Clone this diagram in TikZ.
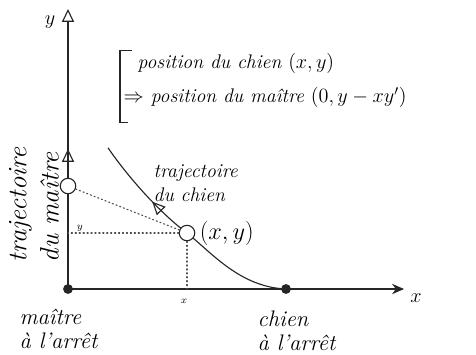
\documentclass[tikz,border=0pt]{standalone}
\usepackage{amsmath,amssymb}
\usepackage{tikz}
\usetikzlibrary{arrows.meta,positioning,calc,decorations.markings}
\tikzset{
  axisline/.style={thick, black!85},
  openpt/.style={circle, draw=black!85, thick, fill=white, inner sep=0pt, minimum size=11pt},
  stoppt/.style={circle, fill=black!85, inner sep=0pt, minimum size=7pt},
  guide/.style={thick, black!70, dotted, line cap=round},
  path/.style={thick, black!85},
  midtri/.style={postaction={decorate}, decoration={markings, mark=at position #1 with {\arrow{Triangle[open,length=3.2mm,width=3mm]}}}},
  hand/.style={font=\itshape\fontsize{14}{17}\selectfont, inner sep=1pt},
  bighand/.style={font=\itshape\fontsize{17}{22}\selectfont, inner sep=1pt},
  stoplab/.style={font=\itshape\fontsize{16}{17}\selectfont, inner sep=1pt, align=left, anchor=north west},
  tick/.style={font=\itshape\scriptsize, inner sep=1pt}
}

\begin{document}
\begin{tikzpicture}
  \useasboundingbox (-1.7,-1.625) rectangle (10.2,7.225);
  % axes
  \coordinate (O) at (0,0);
  \coordinate (ytop) at (0,7.0);
  \coordinate (xend) at (8.4,0);
  \draw[axisline, midtri=0.5, -{Triangle[open,length=3.2mm,width=3mm]}] (O) -- (ytop);
  \draw[axisline, -{Stealth[length=3mm,width=2.6mm]}] (O) -- (xend);
  \node[hand] (ylab) at (-0.45,6.68) {$y$};
  \node[hand] (xlab) at (8.7,-0.22) {$x$};

  % curve of the dog
  \node[stoppt] (dog) at (5.45,0) {};
  \node[stoppt] (master) at (O) {};
  \coordinate (P) at (2.975,1.4);
  \coordinate (ctop) at (1.0,3.53);
  \draw[path, midtri=0.7] (dog.center) .. controls (4.3,0.05) and (3.6,0.9) .. (P)
    .. controls (2.3,1.9) and (1.5,2.8) .. (ctop);

  % construction lines
  \coordinate (xP) at (2.975,0);
  \coordinate (yP) at (0,1.4);
  \node[openpt] (M) at (0,2.575) {};
  \node[openpt] (Pt) at (P) {};
  \draw[guide] (M) -- (Pt);
  \draw[guide] (Pt) -- (yP);
  \draw[guide] (Pt) -- (xP);
  \node[tick] (yy) at (0.3,1.52) {$y$};
  \node[tick] (xx) at (2.9,-0.3) {$x$};
  \node[bighand, right=2pt of Pt] (Plab) {$(x,y)$};

  % labels
  \node[hand, align=left, anchor=north west] (tchien) at (2.1,3.15) {trajectoire\\du chien};
  \node[bighand, align=left, rotate=90, font=\itshape\fontsize{19}{23}\selectfont] (tmaitre) at (-0.85,2.1) {trajectoire\\du maître};
  \node[stoplab] (mstop) at (-1.25,-0.45) {maître\\à l'arrêt};
  \node[stoplab] (dstop) at (4.7,-0.5) {chien\\à l'arrêt};

  % what we know
  \node[hand, anchor=west] (pchien) at (1.7,5.65) {position du chien $(x,y)$};
  \node[hand, anchor=west] (pmaitre) at (1.35,4.78) {$\Rightarrow$ position du maître $(0,y-xy')$};
  \draw[thick, black!85] (1.6,5.97) -- (1.3,5.97) -- (1.3,4.17) -- (1.5,4.17);
\end{tikzpicture}
\end{document}
